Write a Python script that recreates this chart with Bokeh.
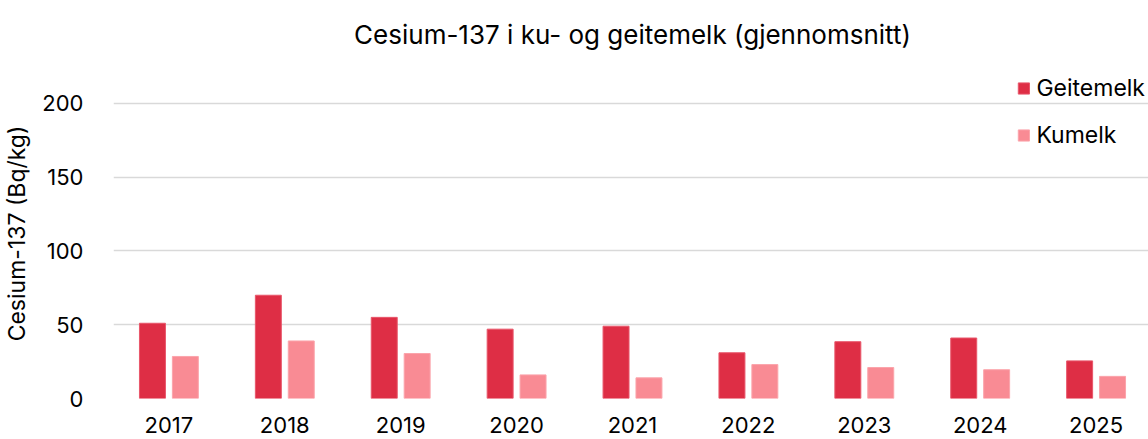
from bokeh.plotting import figure
from bokeh.models import FactorRange, Range1d, FixedTicker, Legend, LegendItem, ColumnDataSource, Title
from bokeh.transform import dodge
from bokeh.embed import file_html
from bokeh.resources import INLINE

years = ["2017", "2018", "2019", "2020", "2021", "2022", "2023", "2024", "2025"]
geitemelk = [51, 70, 55, 47, 49, 31, 38.5, 41, 25.5]
kumelk = [28.5, 39, 30.5, 16, 14, 23, 21, 19.5, 15]
y_ticks = [0, 50, 100, 150, 200]

title_text = "Cesium-137 i ku- og geitemelk (gjennomsnitt)"
y_label = "Cesium-137 (Bq/kg)"

GEIT = "#DE2E45"
KU = "#F98B94"
FONT = "Inter"

src = ColumnDataSource(dict(year=years, geit=geitemelk, ku=kumelk))

p = figure(x_range=FactorRange(*years, range_padding=-0.022, range_padding_units="absolute"),
           y_range=Range1d(0, 223.7),
           frame_width=1038, frame_height=330, output_backend="svg", toolbar_location=None,
           min_border_left=110, min_border_right=0, min_border_top=68, min_border_bottom=41)
p.outline_line_color = None
p.title.text = ""

title = Title(text=title_text, align="center", offset=-49, vertical_align="top",
              text_font=FONT, text_font_size="26px", text_font_style="normal",
              text_color="#000000", standoff=33)
p.add_layout(title, "above")

w = 0.224
off = 0.142
r1 = p.vbar(x=dodge("year", -off, range=p.x_range), top="geit", width=w, source=src,
            fill_color=GEIT, line_color="#E8566A", line_width=1)
r2 = p.vbar(x=dodge("year", off, range=p.x_range), top="ku", width=w, source=src,
            fill_color=KU, line_color="#FBA4AB", line_width=1)

p.xgrid.grid_line_color = None
p.ygrid.grid_line_color = "#d9d9d9"
p.ygrid.grid_line_width = 1.5
p.yaxis.ticker = FixedTicker(ticks=y_ticks)

for ax in (p.xaxis[0], p.yaxis[0]):
    ax.axis_line_color = None
    ax.major_tick_line_color = None
    ax.minor_tick_line_color = None
    ax.major_label_text_font = FONT
    ax.major_label_text_font_size = "22px"
    ax.major_label_text_color = "#000000"

p.xaxis.major_label_standoff = 12
p.yaxis.major_label_standoff = 24
p.yaxis.axis_label = y_label
p.yaxis.axis_label_text_font = FONT
p.yaxis.axis_label_text_font_size = "23px"
p.yaxis.axis_label_text_font_style = "normal"
p.yaxis.axis_label_text_color = "#000000"
p.yaxis.axis_label_standoff = 8

legend = Legend(items=[LegendItem(label="Geitemelk", renderers=[r1]),
                       LegendItem(label="Kumelk", renderers=[r2])],
                location="top_right", orientation="vertical")
legend.background_fill_alpha = 0
legend.border_line_alpha = 0
legend.margin = 0
legend.padding = 6
legend.glyph_width = 14
legend.glyph_height = 14
legend.label_height = 26
legend.spacing = 19
legend.label_standoff = 6
legend.label_text_font = FONT
legend.label_text_font_size = "23px"
legend.label_text_color = "#000000"
p.add_layout(legend)

open("out.html", "w").write(file_html(p, INLINE))
